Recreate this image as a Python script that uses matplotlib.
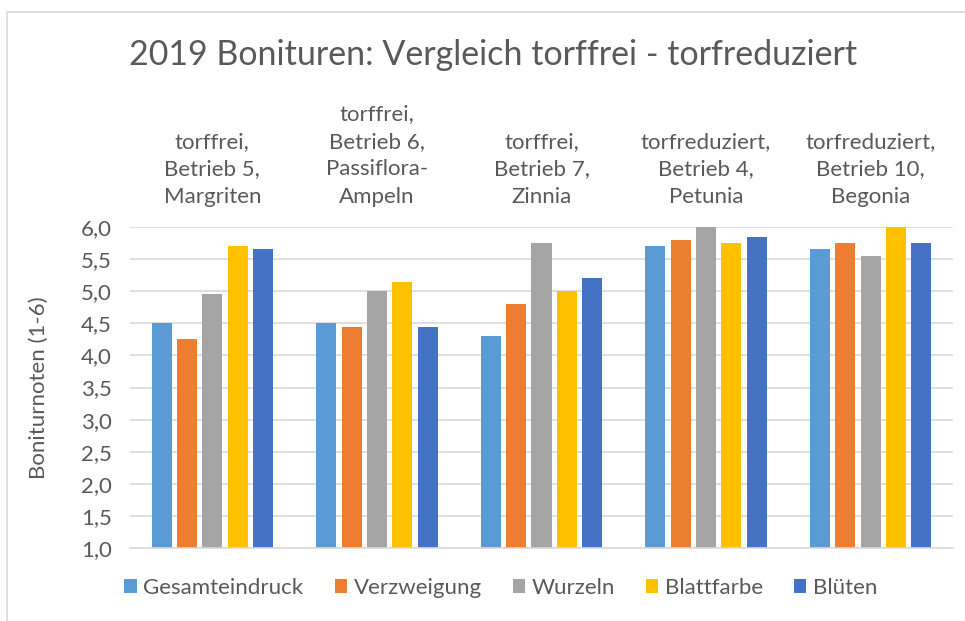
import matplotlib.pyplot as plt
import numpy as np
from matplotlib.patches import Rectangle

plt.rcParams['font.family'] = ['Lato', 'DejaVu Sans']

categories = ["torffrei,\nBetrieb 5,\nMargriten",
              "torffrei,\nBetrieb 6,\nPassiflora-\nAmpeln",
              "torffrei,\nBetrieb 7,\nZinnia",
              "torfreduziert,\nBetrieb 4,\nPetunia",
              "torfreduziert,\nBetrieb 10,\nBegonia"]
series = ["Gesamteindruck", "Verzweigung", "Wurzeln", "Blattfarbe", "Blüten"]
gesamteindruck = [4.5, 4.5, 4.3, 5.7, 5.65]
verzweigung = [4.25, 4.45, 4.8, 5.8, 5.75]
wurzeln = [4.95, 5.0, 5.75, 6.0, 5.55]
blattfarbe = [5.7, 5.15, 5.0, 5.75, 6.0]
blueten = [5.65, 4.45, 5.2, 5.85, 5.75]
yticks = [1.0, 1.5, 2.0, 2.5, 3.0, 3.5, 4.0, 4.5, 5.0, 5.5, 6.0]

colors = ["#5B9BD5", "#ED7D31", "#A5A5A5", "#FFC000", "#4472C4"]
txt = "#595959"

fig = plt.figure(figsize=(9.65, 6.21), dpi=100)
# chart frame (cropped on right and bottom)
fig.patches.append(Rectangle((7/965, -0.1), 1.2, (621-12)/621 + 0.1, transform=fig.transFigure,
                             fill=False, edgecolor="#D9D9D9", lw=1.2))

ax = fig.add_axes([130/965, 1-548/621, (953-130)/965, (548-227)/621])
x = np.arange(len(categories))
w = 0.122
step = 0.154
data = [gesamteindruck, verzweigung, wurzeln, blattfarbe, blueten]
for i, (vals, name) in enumerate(zip(data, series)):
    ax.bar(x + (i - 2) * step, np.array(vals) - 1.0, w, bottom=1.0,
           color=colors[i], label=name, zorder=3)

ax.set_xlim(-0.5, len(categories) - 0.5)
ax.set_ylim(1.0, 6.0)
ax.set_yticks(yticks)
ax.set_yticklabels([f"{v:.1f}".replace(".", ",") for v in yticks], color=txt, fontsize=16)
ax.set_xticks([])
ax.tick_params(axis="y", length=0, pad=13)
ax.grid(axis="y", color="#D9D9D9", lw=1.2, zorder=0)
for s in ["top", "right", "left"]:
    ax.spines[s].set_visible(False)
ax.spines["bottom"].set_color("#D9D9D9")
ax.spines["bottom"].set_linewidth(1.2)
ax.spines["bottom"].set_zorder(4)

for xi, lab in zip(x, categories):
    ax.text(xi, 1.0 + 20/321, lab, transform=ax.get_xaxis_transform(), ha="center", va="bottom",
            fontsize=16, color=txt, linespacing=1.47)

ax.set_ylabel("Boniturnoten (1-6)", fontsize=16, color=txt)
ax.yaxis.set_label_coords(-81/823, 0.5)

fig.text(493/965, 1-55/621, "2019 Bonituren: Vergleich torffrei - torfreduziert",
         ha="center", va="center", fontsize=24.5, color=txt)

leg = fig.legend(loc="center", bbox_to_anchor=(501/965, 1-588/621), ncol=5, frameon=False,
                 fontsize=16, handlelength=0.55, handleheight=0.55, handletextpad=0.3,
                 columnspacing=1.4, labelcolor=txt)

fig.savefig("out.png", dpi=100)
